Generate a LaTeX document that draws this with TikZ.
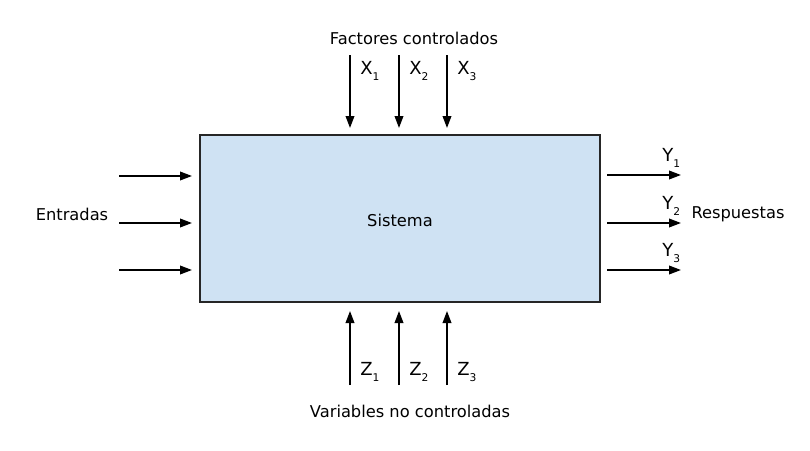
\documentclass[tikz,border=0pt]{standalone}
\usepackage{fontspec}
\setmainfont{DejaVu Sans}
\usetikzlibrary{arrows.meta}
\newcommand{\lbl}[2]{#1\raisebox{-4.5pt}{\fontsize{8}{9}\selectfont #2}}
\definecolor{boxfill}{HTML}{CFE2F3}
\begin{document}
\begin{tikzpicture}[x=0.75pt,y=-0.75pt,
  arr/.style={line width=1.2pt,-{Triangle[length=9pt,width=6.5pt]}},
  txt/.style={font=\fontsize{12.2}{14}\selectfont, inner sep=0pt},
  sub/.style={font=\fontsize{13.5}{15}\selectfont, inner sep=0pt, anchor=west}]
\useasboundingbox (0,0) rectangle (810,450);
\node[draw=black!85, line width=1.3pt, fill=boxfill, minimum width=400*0.75pt, minimum height=167*0.75pt, inner sep=0pt] (sys) at (400,218.5) {};
\node[txt] (systxt) at (400,220) {Sistema};
% top
\node[txt] (fc) at (414,38) {Factores controlados};
\foreach \x/\i in {350/1,399/2,447/3}{
  \coordinate (t\i) at (\x,55);
  \coordinate (tb\i) at (\x,128);
  \draw[arr] (t\i) -- (tb\i);
  \node[sub] (x\i) at (\x+10,71) {\lbl{X}{\i}};
}
% bottom
\node[txt] (vnc) at (410,411) {Variables no controladas};
\foreach \x/\i in {350/1,399/2,447/3}{
  \coordinate (b\i) at (\x,385);
  \coordinate (bb\i) at (\x,311);
  \draw[arr] (b\i) -- (bb\i);
  \node[sub] (z\i) at (\x+10,372) {\lbl{Z}{\i}};
}
% left
\node[txt] (ent) at (72,214) {Entradas};
\foreach \y/\i in {176/1,223/2,270/3}{
  \coordinate (l\i) at (119,\y);
  \coordinate (lb\i) at (192,\y);
  \draw[arr] (l\i) -- (lb\i);
}
% right
\node[txt] (resp) at (738,214) {Respuestas};
\foreach \y/\i in {175/1,223/2,270/3}{
  \coordinate (r\i) at (607,\y);
  \coordinate (rb\i) at (681,\y);
  \draw[arr] (r\i) -- (rb\i);
  \node[sub] (y\i) at (662,\y-17) {\lbl{Y}{\i}};
}
\end{tikzpicture}
\end{document}
